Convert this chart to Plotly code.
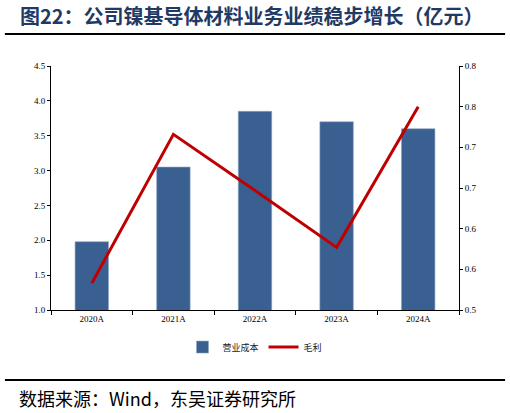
import plotly.graph_objects as go

years = ['2020A', '2021A', '2022A', '2023A', '2024A']
cost = [1.98, 3.05, 3.85, 3.70, 3.60]
gross = [0.533, 0.716, 0.647, 0.577, 0.750]

left_ticks = [1.0, 1.5, 2.0, 2.5, 3.0, 3.5, 4.0, 4.5]
right_ticks = [0.5, 0.55, 0.6, 0.65, 0.7, 0.75, 0.8]
right_text = ['0.5', '0.6', '0.6', '0.7', '0.7', '0.8', '0.8']

serif = 'Liberation Serif, Times New Roman, serif'
cjk = 'Noto Sans CJK SC'

fig = go.Figure()
fig.add_trace(go.Bar(
    x=years, y=cost, name='营业成本',
    marker=dict(color='#3A5F91', line=dict(color='#8FA6C4', width=0.6)),
    width=0.41,
))
fig.add_trace(go.Scatter(
    x=years, y=gross, name='毛利', yaxis='y2',
    mode='lines', line=dict(color='#C00000', width=3),
))

fig.update_layout(
    width=510, height=413,
    margin=dict(l=51, r=51, t=66, b=103),
    plot_bgcolor='white', paper_bgcolor='white',
    showlegend=True,
    legend=dict(orientation='h', x=0.5, xanchor='center', y=-0.152, yanchor='middle',
                font=dict(family=cjk, size=9, color='#222222'),
                itemwidth=30),
    xaxis=dict(showline=True, linecolor='black', linewidth=1,
               ticks='outside', ticklen=4, tickcolor='black', tickson='boundaries',
               tickfont=dict(family=serif, size=9, color='black'),
               showgrid=False),
    yaxis=dict(range=[1.0, 4.5], tickvals=left_ticks, tickformat='.1f',
               showline=True, linecolor='black', linewidth=1,
               ticks='outside', ticklen=3, tickcolor='black',
               tickfont=dict(family=serif, size=9, color='black'),
               showgrid=False, zeroline=False),
    yaxis2=dict(range=[0.5, 0.8], overlaying='y', side='right',
                tickvals=right_ticks, ticktext=right_text,
                showline=True, linecolor='black', linewidth=1,
                ticks='outside', ticklen=3, tickcolor='black',
                tickfont=dict(family=serif, size=9, color='black'),
                showgrid=False, zeroline=False),
    bargap=0.5,
)

# header and footer
fig.add_annotation(text='<b>图22：公司镍基导体材料业务业绩稳步增长（亿元）</b>',
                   xref='paper', yref='paper', x=-0.081, y=1.209,
                   xanchor='left', yanchor='middle', showarrow=False,
                   font=dict(family=cjk, size=20, color='#1F3A64'))
fig.add_annotation(text='数据来源：Wind，东吴证券研究所',
                   xref='paper', yref='paper', x=-0.083, y=-0.361,
                   xanchor='left', yanchor='middle', showarrow=False,
                   font=dict(family=cjk, size=18, color='black'))
fig.add_shape(type='line', xref='paper', yref='paper',
              x0=-0.113, x1=1.113, y0=1.131, y1=1.131,
              line=dict(color='black', width=2))
fig.add_shape(type='line', xref='paper', yref='paper',
              x0=-0.113, x1=1.113, y0=-0.287, y1=-0.287,
              line=dict(color='black', width=2))

# drop the default body margin so the figure fills the window
fig.write_html('out.html', config={'displayModeBar': False},
               post_script="document.body.style.margin='0';")
